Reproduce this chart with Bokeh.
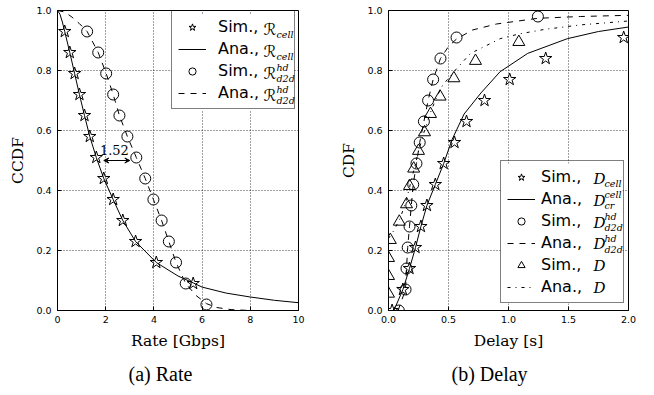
from bokeh.plotting import figure
from bokeh.layouts import row
from bokeh.models import (Legend, LegendItem, Label, Arrow, VeeHead, FixedTicker, Range1d, Title,
                          BoxAnnotation)
from bokeh.embed import file_html
from bokeh.resources import INLINE

# ---------------- (a) Rate data ----------------
rate_ticks_x = [0, 2, 4, 6, 8, 10]
rate_tick_labels_x = ["0", "2", "4", "6", "8", "10"]
prob_ticks = [0.0, 0.2, 0.4, 0.6, 0.8, 1.0]
prob_tick_labels = ["0.0", "0.2", "0.4", "0.6", "0.8", "1.0"]

rate_sim_cell_x = [0.30, 0.51, 0.71, 0.91, 1.12, 1.34, 1.61, 1.92, 2.31, 2.71, 3.24, 4.10, 5.63]
rate_sim_cell_y = [0.93, 0.86, 0.79, 0.72, 0.65, 0.58, 0.51, 0.44, 0.37, 0.30, 0.23, 0.16, 0.09]

rate_ana_cell_x = [0.0, 0.1, 0.2, 0.3, 0.51, 0.71, 0.91, 1.12, 1.34, 1.61, 1.92, 2.31, 2.71,
                   3.24, 4.10, 5.0, 5.63, 6.0, 7.0, 8.0, 9.0, 10.0]
rate_ana_cell_y = [1.0, 0.988, 0.962, 0.93, 0.86, 0.79, 0.72, 0.65, 0.58, 0.51, 0.44, 0.37, 0.30,
                   0.23, 0.16, 0.115, 0.092, 0.078, 0.058, 0.045, 0.034, 0.026]

rate_sim_d2d_x = [1.23, 1.69, 2.02, 2.31, 2.57, 2.90, 3.27, 3.64, 3.98, 4.32, 4.62, 4.92, 5.32, 6.18]
rate_sim_d2d_y = [0.93, 0.86, 0.79, 0.72, 0.65, 0.58, 0.51, 0.44, 0.37, 0.30, 0.23, 0.16, 0.09, 0.02]

rate_ana_d2d_x = [0.0, 0.3, 0.6, 0.9, 1.23, 1.69, 2.02, 2.31, 2.57, 2.90, 3.27, 3.64, 3.98, 4.32,
                  4.62, 4.92, 5.32, 5.75, 6.18, 6.6, 7.2, 8.0, 10.0]
rate_ana_d2d_y = [1.0, 0.995, 0.978, 0.957, 0.93, 0.86, 0.79, 0.72, 0.65, 0.58, 0.51, 0.44, 0.37, 0.30,
                  0.23, 0.16, 0.09, 0.05, 0.023, 0.01, 0.003, 0.0, 0.0]

gap_text = "1.52"
gap_text_pos = (1.76, 0.535)
gap_arrow_x = [1.92, 3.0]
gap_arrow_y = 0.50

# ---------------- (b) Delay data ----------------
delay_ticks_x = [0.0, 0.5, 1.0, 1.5, 2.0]
delay_tick_labels_x = ["0.0", "0.5", "1.0", "1.5", "2.0"]

delay_sim_cell_x = [0.03, 0.12, 0.175, 0.225, 0.27, 0.32, 0.39, 0.46, 0.55, 0.65, 0.80, 1.01, 1.31, 1.96]
delay_sim_cell_y = [0.0, 0.07, 0.14, 0.21, 0.28, 0.35, 0.42, 0.49, 0.56, 0.63, 0.70, 0.77, 0.84, 0.91]

delay_ana_cell_x = [0.045, 0.12, 0.175, 0.225, 0.27, 0.32, 0.39, 0.46, 0.53, 0.63, 0.77, 0.93,
                    1.16, 1.49, 1.75, 2.0]
delay_ana_cell_y = [0.0, 0.07, 0.14, 0.21, 0.28, 0.35, 0.42, 0.49, 0.57, 0.655, 0.725, 0.796,
                    0.857, 0.906, 0.93, 0.945]

delay_sim_d2d_x = [0.086, 0.142, 0.15, 0.16, 0.175, 0.19, 0.206, 0.233, 0.26, 0.295, 0.33, 0.372,
                   0.433, 0.567, 1.245]
delay_sim_d2d_y = [0.0, 0.07, 0.14, 0.21, 0.28, 0.35, 0.42, 0.49, 0.56, 0.63, 0.70, 0.77,
                   0.84, 0.91, 0.98]

delay_ana_d2d_x = [0.08, 0.142, 0.15, 0.16, 0.175, 0.19, 0.206, 0.233, 0.26, 0.295, 0.33, 0.372,
                   0.433, 0.5, 0.567, 0.7, 0.9, 1.245, 1.6, 2.0]
delay_ana_d2d_y = [0.0, 0.07, 0.14, 0.21, 0.28, 0.35, 0.42, 0.49, 0.56, 0.63, 0.70, 0.77,
                   0.84, 0.88, 0.905, 0.935, 0.955, 0.974, 0.98, 0.984]

delay_sim_all_x = [0.0, 0.0, 0.0, 0.015, 0.09, 0.15, 0.175, 0.21, 0.25, 0.30, 0.35, 0.43,
                   0.545, 0.725, 1.086]
delay_sim_all_y = [0.056, 0.115, 0.175, 0.235, 0.296, 0.354, 0.415, 0.473, 0.532, 0.594, 0.655,
                   0.713, 0.774, 0.832, 0.895]

delay_ana_all_x = [0.0, 0.05, 0.1, 0.15, 0.2, 0.25, 0.3, 0.35, 0.4, 0.45, 0.545, 0.683, 0.82,
                   0.93, 1.09, 1.3, 1.6, 2.0]
delay_ana_all_y = [0.24, 0.27, 0.31, 0.37, 0.45, 0.53, 0.6, 0.66, 0.71, 0.75, 0.796, 0.857, 0.884,
                   0.906, 0.922, 0.937, 0.952, 0.965]

TICK_FONT = "DejaVu Sans"
SERIF = "DejaVu Serif"
FRAME_TOP, FRAME_BOTTOM = 10, 312


def style_axes(p, xticks, xlabels, xlabel, ylabel):
    xax = p.below[0]
    yax = p.left[0]
    xax.ticker = FixedTicker(ticks=xticks)
    xax.major_label_overrides = dict(zip(xticks, xlabels))
    yax.ticker = FixedTicker(ticks=prob_ticks)
    yax.major_label_overrides = dict(zip(prob_ticks, prob_tick_labels))
    for ax in [xax, yax]:
        ax.axis_line_color = "black"
        ax.major_tick_line_color = "black"
        ax.major_tick_in = 4
        ax.major_tick_out = 0
        ax.minor_tick_line_color = None
        ax.major_label_text_font = TICK_FONT
        ax.major_label_text_font_size = "9.5px"
        ax.major_label_text_color = "black"
        ax.axis_label_text_font = SERIF
        ax.axis_label_text_font_size = "15.5px"
        ax.axis_label_text_font_style = "normal"
        ax.axis_label_text_color = "black"
        ax.axis_label_standoff = 6
    xax.major_label_standoff = 5
    yax.major_label_standoff = 6
    xax.axis_label = xlabel
    yax.axis_label = ylabel
    p.xgrid.ticker = FixedTicker(ticks=xticks)
    p.ygrid.ticker = FixedTicker(ticks=prob_ticks)
    for g in [p.xgrid[0], p.ygrid[0]]:
        g.grid_line_color = "black"
        g.grid_line_alpha = 0.75
        g.grid_line_dash = "1 2"
        g.grid_line_width = 1
    p.outline_line_color = "black"
    p.outline_line_alpha = 1
    p.outline_line_width = 1
    p.background_fill_color = "white"
    p.border_fill_color = "white"


class MathWriter:
    """Places math-like legend text; positions are given in page pixels."""

    def __init__(self, p, fl, fr, x0, x1):
        self.p, self.fl, self.fr, self.x0, self.x1 = p, fl, fr, x0, x1

    def data(self, xi, yi):
        x = self.x0 + (xi - self.fl) / (self.fr - self.fl) * (self.x1 - self.x0)
        y = (FRAME_BOTTOM - yi) / (FRAME_BOTTOM - FRAME_TOP)
        return x, y

    def blank(self, l, t, r, b):
        x0, y1 = self.data(l, t)
        x1, y0 = self.data(r, b)
        self.p.add_layout(BoxAnnotation(left=x0, right=x1, bottom=y0, top=y1, fill_color="white",
                                        fill_alpha=1, line_alpha=0, level="underlay"))

    def text(self, xi, yi, text, size, font=SERIF, style="italic"):
        x, y = self.data(xi, yi)
        self.p.add_layout(Label(x=x, y=y, text=text, text_font=font, text_font_style=style,
                                text_font_size=size, text_baseline="middle", text_align="left",
                                text_color="black"))

    def sym(self, xi, yi, main, sub=None, sup=None, subx=None, font=SERIF, style="italic",
            size="15px"):
        self.text(xi, yi, main, size, font, style)
        sx = subx if subx is not None else xi + 11
        if sub:
            self.text(sx, yi + 5, sub, "9.5px")
        if sup:
            self.text(sx, yi - 6, sup, "9.5px")


def caption(p, text, offset):
    p.add_layout(Title(text=text, align="left", offset=offset, text_font="Liberation Serif",
                       text_font_size="20px", text_font_style="normal", text_color="black",
                       standoff=16), "below")


def make_legend(items, loc, standoff, lw):
    return Legend(items=items, location=loc, padding=6, spacing=3, glyph_width=28, glyph_height=18,
                  label_height=18, label_width=lw, label_standoff=standoff,
                  label_text_font=TICK_FONT, label_text_font_size="16px", label_text_color="black",
                  border_line_color="black", border_line_width=1, background_fill_alpha=0,
                  margin=0)


H = 392
# ---------------- figure (a) ----------------
p1 = figure(width=336, height=H, x_range=Range1d(0, 10), y_range=Range1d(0, 1),
            output_backend="svg", toolbar_location=None,
            min_border_left=57, min_border_right=38, min_border_top=10, min_border_bottom=H - 312)
style_axes(p1, rate_ticks_x, rate_tick_labels_x, "Rate [Gbps]", "CCDF")
m1 = MathWriter(p1, 57, 298, 0, 10)
m1.blank(171, 14, 293, 111)

r1 = p1.scatter(rate_sim_cell_x, rate_sim_cell_y, marker="star", size=13, fill_alpha=0,
                line_color="black", line_width=1)
r2 = p1.line(rate_ana_cell_x, rate_ana_cell_y, line_color="black", line_width=1)
r3 = p1.scatter(rate_sim_d2d_x, rate_sim_d2d_y, marker="circle", size=11, fill_alpha=0,
                line_color="black", line_width=1)
r4 = p1.line(rate_ana_d2d_x, rate_ana_d2d_y, line_color="black", line_width=1, line_dash="6 6")

p1.add_layout(Arrow(start=VeeHead(size=5, line_width=1), end=VeeHead(size=5, line_width=1),
                    x_start=gap_arrow_x[0], x_end=gap_arrow_x[1], y_start=gap_arrow_y,
                    y_end=gap_arrow_y, line_width=1, line_color="black"))
p1.add_layout(Label(x=gap_text_pos[0], y=gap_text_pos[1], text=gap_text, text_font=SERIF,
                    text_font_size="13px", text_baseline="middle", text_align="left",
                    text_color="black"))

leg1 = make_legend([LegendItem(label="Sim.,", renderers=[r1]),
                    LegendItem(label="Ana.,", renderers=[r2]),
                    LegendItem(label="Sim.,", renderers=[r3]),
                    LegendItem(label="Ana.,", renderers=[r4])], (114, 201), 12, 70)
p1.add_layout(leg1, "center")
for i, yi in enumerate([29.5, 51.5, 73.5, 95.5]):
    if i < 2:
        m1.sym(263, yi, "\u211b", sub="cell", subx=276, font="DejaVu Sans", style="normal",
               size="16px")
    else:
        m1.sym(263, yi, "\u211b", sub="d2d", sup="hd", subx=276, font="DejaVu Sans",
               style="normal", size="16px")
caption(p1, "(a) Rate", 71)

# ---------------- figure (b) ----------------
p2 = figure(width=318, height=H, x_range=Range1d(0, 2), y_range=Range1d(0, 1),
            output_backend="svg", toolbar_location=None,
            min_border_left=52, min_border_right=26, min_border_top=10, min_border_bottom=H - 312)
style_axes(p2, delay_ticks_x, delay_tick_labels_x, "Delay [s]", "CDF")
m2 = MathWriter(p2, 388, 628, 0, 2)
m2.blank(500, 164, 622, 305)

s1 = p2.scatter(delay_sim_cell_x, delay_sim_cell_y, marker="star", size=13, fill_alpha=0,
                line_color="black", line_width=1)
s2 = p2.line(delay_ana_cell_x, delay_ana_cell_y, line_color="black", line_width=1)
s3 = p2.scatter(delay_sim_d2d_x, delay_sim_d2d_y, marker="circle", size=11, fill_alpha=0,
                line_color="black", line_width=1)
s4 = p2.line(delay_ana_d2d_x, delay_ana_d2d_y, line_color="black", line_width=1, line_dash="6 6")
s5 = p2.scatter(delay_sim_all_x, delay_sim_all_y, marker="triangle", size=12, fill_alpha=0,
                line_color="black", line_width=1)
s6 = p2.line(delay_ana_all_x, delay_ana_all_y, line_color="black", line_width=1,
             line_dash="3 5 1 5")

leg2 = make_legend([LegendItem(label="Sim.,", renderers=[s1]),
                    LegendItem(label="Ana.,", renderers=[s2]),
                    LegendItem(label="Sim.,", renderers=[s3]),
                    LegendItem(label="Ana.,", renderers=[s4]),
                    LegendItem(label="Sim.,", renderers=[s5]),
                    LegendItem(label="Ana.,", renderers=[s6])], (112, 7), 6, 76)
p2.add_layout(leg2, "center")
rows2 = [179.5, 201.5, 223.5, 245.5, 267.5, 289.5]
m2.sym(593, rows2[0], "D", sub="cell", subx=604)
m2.sym(593, rows2[1], "D", sub="cr", sup="cell", subx=604)
m2.sym(593, rows2[2], "D", sub="d2d", sup="hd", subx=604)
m2.sym(593, rows2[3], "D", sub="d2d", sup="hd", subx=604)
m2.sym(593, rows2[4], "D")
m2.sym(593, rows2[5], "D")
caption(p2, "(b) Delay", 63)

layout = row(p1, p2, spacing=0)
open("out.html", "w").write(file_html(layout, INLINE))
